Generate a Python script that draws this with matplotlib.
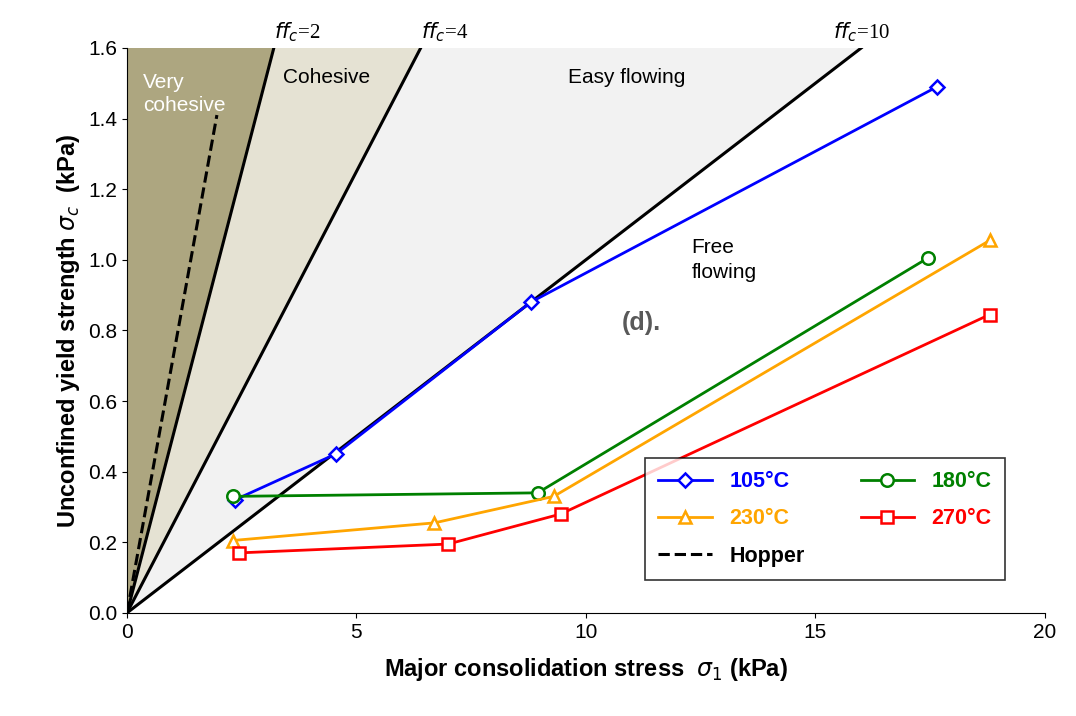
import matplotlib
matplotlib.use("Agg")
import matplotlib.pyplot as plt
import numpy as np

plt.rcParams['font.family'] = ['Liberation Sans', 'DejaVu Sans']

s105_x = [2.35, 4.55, 8.8, 17.65]; s105_y = [0.32, 0.45, 0.88, 1.49]
s180_x = [2.3, 8.95, 17.45]; s180_y = [0.33, 0.34, 1.005]
s230_x = [2.3, 6.7, 9.3, 18.8]; s230_y = [0.205, 0.255, 0.33, 1.055]
s270_x = [2.45, 7.0, 9.45, 18.8]; s270_y = [0.17, 0.195, 0.28, 0.845]
hopper_x = [0, 1.96]; hopper_y = [0, 1.41]
ffc = [2, 4, 10]

fig = plt.figure(figsize=(10.76, 7.16), dpi=100)
ax = fig.add_axes([0.118, 0.144, 0.853, 0.789])
ymax = 1.6
ax.fill([0, 0, 2*ymax], [0, ymax, ymax], color='#ada680', lw=0, zorder=0)
ax.fill([0, 2*ymax, 4*ymax], [0, ymax, ymax], color='#e5e2d3', lw=0, zorder=0)
ax.fill([0, 4*ymax, 10*ymax], [0, ymax, ymax], color='#f2f2f2', lw=0, zorder=0)
for f in ffc:
    ax.plot([0, f*ymax], [0, ymax], color='black', lw=2.2, zorder=1)
    ax.text(f*ymax, ymax+0.01, r'$ff_c$=' + str(f), fontsize=15, ha='left' if f < 10 else 'center', va='bottom', fontfamily='Liberation Serif')
ax.plot(hopper_x, hopper_y, 'k--', lw=2.2, label='Hopper', zorder=2)
kw = dict(lw=2, mfc='white', mew=1.8, zorder=3)
ax.plot(s105_x, s105_y, marker='D', color='#0000ff', ms=7, label='105°C', **kw)
ax.plot(s180_x, s180_y, marker='o', color='#008000', ms=9, label='180°C', **kw)
ax.plot(s230_x, s230_y, marker='^', color='#ffa500', ms=9, label='230°C', **kw)
ax.plot(s270_x, s270_y, marker='s', color='#ff0000', ms=9, label='270°C', **kw)

ax.text(0.35, 1.53, 'Very\ncohesive', color='white', fontsize=15, va='top', linespacing=1.3)
ax.text(3.4, 1.515, 'Cohesive', fontsize=15, va='center')
ax.text(10.9, 1.515, 'Easy flowing', fontsize=15, va='center', ha='center')
ax.text(12.3, 1.0, 'Free\nflowing', fontsize=15, va='center', linespacing=1.4)
ax.text(11.2, 0.82, '(d).', fontsize=18, fontweight='bold', color='#595959', ha='center', va='center')

ax.set_xlim(0, 20); ax.set_ylim(0, 1.6)
ax.set_xticks(range(0, 21, 5)); ax.set_yticks(np.arange(0, 1.61, 0.2))
ax.yaxis.set_major_formatter(matplotlib.ticker.FormatStrFormatter('%.1f'))
ax.tick_params(labelsize=15, direction='out')
for s in ['top', 'right']:
    ax.spines[s].set_visible(False)
ax.set_xlabel(r'Major consolidation stress  $\boldsymbol{\sigma_1}$ (kPa)', fontsize=17, fontweight='bold', labelpad=10)
ax.set_ylabel(r'Unconfined yield strength $\boldsymbol{\sigma_c}$  (kPa)', fontsize=17, fontweight='bold')

h, l = ax.get_legend_handles_labels()
order = [1, 3, 0, 2, 4]
h = [h[i] for i in order]; l = [l[i] for i in order]
leg = ax.legend(h, l, ncol=2, loc='lower right', bbox_to_anchor=(0.968, 0.04), frameon=True, fancybox=False,
                edgecolor='black', handlelength=2.5, columnspacing=2.6, labelspacing=0.75,
                borderpad=0.6, prop={'weight': 'bold', 'size': 15.5})
leg.get_frame().set_linewidth(1.2)
for t in leg.get_texts():
    t.set_color({'105°C': '#0000ff', '180°C': '#008000', '230°C': '#ffa500', '270°C': '#ff0000'}.get(t.get_text(), 'black'))
fig.savefig('out.png', dpi=100)
